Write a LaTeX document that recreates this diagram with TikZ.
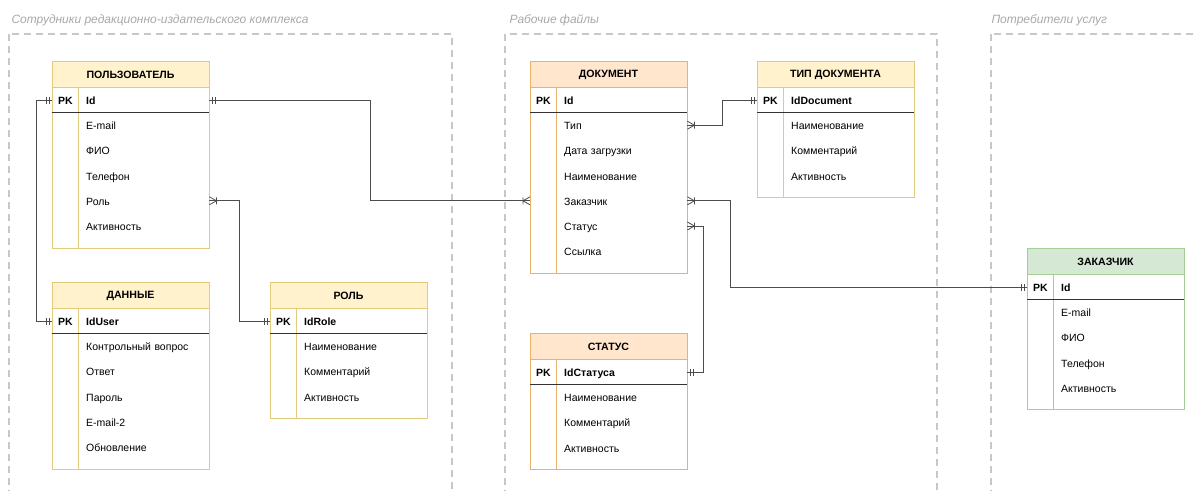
\documentclass[tikz,border=0pt]{standalone}
\usepackage{fontspec}
\setmainfont{Liberation Sans}
\usetikzlibrary{positioning,calc}
\usetikzlibrary{decorations.markings}

\definecolor{ylhead}{HTML}{FFF2CC}
\definecolor{ylline}{HTML}{E3CB7E}
\definecolor{orhead}{HTML}{FFE6CC}
\definecolor{orline}{HTML}{E8B46A}
\definecolor{grhead}{HTML}{D5E8D4}
\definecolor{grline}{HTML}{A6CF98}
\definecolor{zoneline}{HTML}{C8C8C8}
\definecolor{zonetxt}{HTML}{A8A8A8}

\tikzset{
  zone/.style={draw=zoneline, line width=1.6pt, dash pattern=on 7pt off 5pt},
  zonelabel/.style={anchor=west, text=zonetxt, font=\fontsize{12}{14}\selectfont\itshape},
  headtxt/.style={font=\fontsize{10.6}{12}\selectfont\bfseries, yshift=-0.8pt},
  fld/.style={anchor=west, inner sep=0pt, minimum height=25pt, text width=157pt, align=left,
    text height=9.6pt, text depth=0.8pt,
    font=\fontsize{10.5}{12}\selectfont, execute at begin node={\hspace*{34pt}}},
  pkfld/.style={fld, font=\fontsize{10.5}{12}\selectfont\bfseries},
  pktxt/.style={anchor=west, inner sep=0pt, text height=9.6pt, text depth=0.8pt,
    font=\fontsize{10.5}{12}\selectfont\bfseries},
  pkline/.style={draw=black!80, line width=0.8pt},
  erline/.style={draw=black!70, line width=0.8pt},
  onestart/.style={postaction={decorate, decoration={markings,
    mark=at position 3pt with {\draw[erline] (0,-3.5pt) -- (0,3.5pt);},
    mark=at position 5.5pt with {\draw[erline] (0,-3.5pt) -- (0,3.5pt);}}}},
  oneend/.style={postaction={decorate, decoration={markings,
    mark=at position -3pt with {\draw[erline] (0,-3.5pt) -- (0,3.5pt);},
    mark=at position -5.5pt with {\draw[erline] (0,-3.5pt) -- (0,3.5pt);}}}},
  manystart/.style={postaction={decorate, decoration={markings,
    mark=at position 7pt with {\draw[erline] (-7pt,4pt) -- (0,0) -- (-7pt,-4pt) (0,-3.5pt) -- (0,3.5pt);}}}},
  manyend/.style={postaction={decorate, decoration={markings,
    mark=at position -7pt with {\draw[erline] (7pt,4pt) -- (0,0) -- (7pt,-4pt) (0,-3.5pt) -- (0,3.5pt);}}}}
}

% table: name, left, top, rows, colour, title, key, fields
\newcommand{\ertable}[8]{%
  \pgfmathsetmacro\tbot{#3+61+25.2*#4}
  \fill[#5head] (#2,#3) rectangle ++(157,26);
  \fill[white] (#2,#3+26) rectangle (#2+157,\tbot);
  \draw[#5line, line width=0.8pt] (#2,#3) rectangle (#2+157,\tbot);
  \draw[#5line, line width=0.8pt] (#2,#3+26) -- ++(157,0);
  \draw[#5line, line width=0.8pt] (#2+26.5,#3+26) -- (#2+26.5,\tbot);
  \draw[pkline] (#2,#3+51.5) -- ++(157,0);
  \node[headtxt] (#1) at (#2+78.5,#3+13) {#6};
  \node[pkfld] (#1-pk) at (#2,#3+39) {#7};
  \node[pktxt] at (#2+6,#3+39) {PK};
  \foreach \fname [count=\i] in {#8}
    \node[fld] (#1-\i) at (#2,#3+39+25.2*\i) {\fname};
}

\begin{document}
\begin{tikzpicture}[x=1pt,y=-1pt]
  \useasboundingbox (0,0) rectangle (1198,490);
  \clip (0,0) rectangle (1198,490);

  % zones
  \draw[zone] (9,34) rectangle (452,520);
  \draw[zone] (505,34) rectangle (937,520);
  \draw[zone] (991,34) rectangle (1230,520);
  \node[zonelabel] (zone1) at (8,20) {Сотрудники редакционно-издательского комплекса};
  \node[zonelabel] (zone2) at (506,20) {Рабочие файлы};
  \node[zonelabel] (zone3) at (988,20) {Потребители услуг};

  % tables
  \ertable{user}{52}{61}{5}{yl}{ПОЛЬЗОВАТЕЛЬ}{Id}{E-mail,ФИО,Телефон,Роль,Активность}
  \ertable{data}{52}{282}{5}{yl}{ДАННЫЕ}{IdUser}{Контрольный вопрос,Ответ,Пароль,E-mail-2,Обновление}
  \ertable{role}{270}{282}{3}{yl}{РОЛЬ}{IdRole}{Наименование,Комментарий,Активность}
  \ertable{doc}{530}{61}{6}{or}{ДОКУМЕНТ}{Id}{Тип,Дата загрузки,Наименование,Заказчик,Статус,Ссылка}
  \ertable{dtype}{757}{61}{3}{yl}{ТИП ДОКУМЕНТА}{IdDocument}{Наименование,Комментарий,Активность}
  \ertable{status}{530}{333}{3}{or}{СТАТУС}{IdСтатуса}{Наименование,Комментарий,Активность}
  \ertable{cust}{1027}{248}{4}{gr}{ЗАКАЗЧИК}{Id}{E-mail,ФИО,Телефон,Активность}

  % relations
  \draw[erline, onestart, oneend] (user-pk.west) -- ++(-16,0) |- (data-pk.west);
  \draw[erline, onestart, manyend] (user-pk.east) -- ++(161,0) |- (doc-4.west);
  \draw[erline, manystart, oneend] (user-4.east) -- ++(30,0) |- (role-pk.west);
  \draw[erline, manystart, oneend] (doc-1.east) -- ++(35,0) |- (dtype-pk.west);
  \draw[erline, manystart, oneend] (doc-4.east) -- ++(43,0) |- (cust-pk.west);
  \draw[erline, manystart, oneend] (doc-5.east) -- ++(16,0) |- (status-pk.east);
\end{tikzpicture}
\end{document}
